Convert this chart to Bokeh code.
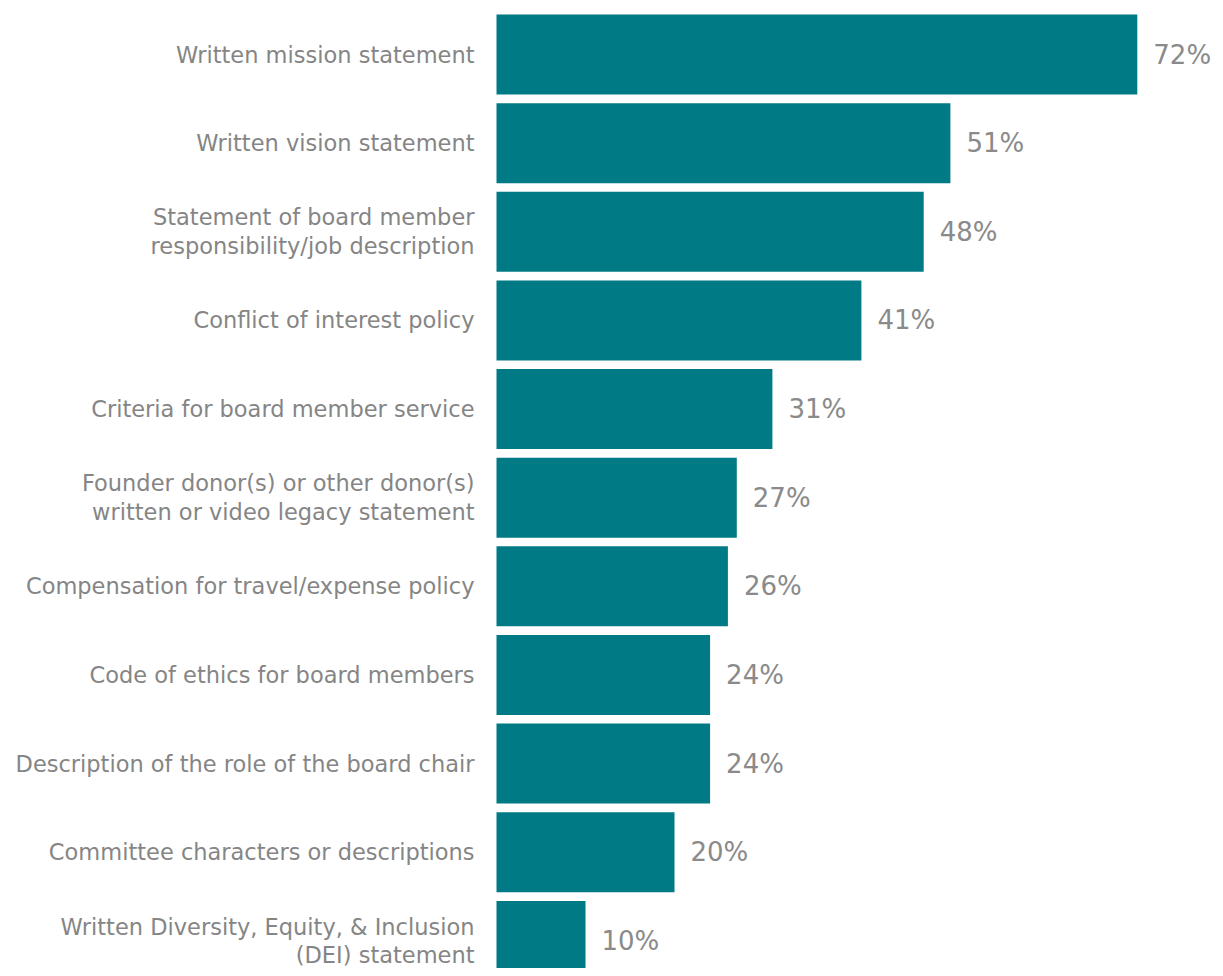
from bokeh.plotting import figure
from bokeh.models import Range1d, ColumnDataSource
from bokeh.core.properties import value
from bokeh.embed import file_html
from bokeh.resources import INLINE

categories = [
    "Written mission statement",
    "Written vision statement",
    "Statement of board member\nresponsibility/job description",
    "Conflict of interest policy",
    "Criteria for board member service",
    "Founder donor(s) or other donor(s)\nwritten or video legacy statement",
    "Compensation for travel/expense policy",
    "Code of ethics for board members",
    "Description of the role of the board chair",
    "Committee characters or descriptions",
    "Written Diversity, Equity, & Inclusion\n(DEI) statement",
]
values = [72, 51, 48, 41, 31, 27, 26, 24, 24, 20, 10]
value_labels = [f"{v}%" for v in values]

W, H = 1215, 968
x0_px = 496.0
px_per_unit = 8.9
pitch = 88.64
top_units = 54.0 / pitch

idx = list(range(len(categories)))
src = ColumnDataSource(dict(y=idx, v=values, cat=categories, lab=value_labels,
                            zero=[0] * len(idx)))

p = figure(width=W, height=H, output_backend="svg", toolbar_location=None,
           x_range=Range1d(-x0_px / px_per_unit, (W - x0_px) / px_per_unit),
           y_range=Range1d(H / pitch - top_units, -top_units),
           min_border=0, min_border_left=0, min_border_right=0,
           min_border_top=0, min_border_bottom=0)
p.xaxis.visible = False
p.yaxis.visible = False
p.xgrid.visible = False
p.ygrid.visible = False
p.outline_line_color = None
p.background_fill_color = "white"
p.border_fill_color = "white"

p.hbar(y="y", left=0, right="v", height=80 / pitch, source=src,
       fill_color="#007A85", line_color=None)

p.text(x="zero", y="y", text="cat", source=src, x_offset=-22,
       text_align="right", text_baseline="middle",
       text_font=value("DejaVu Sans"), text_font_size="22.5px",
       text_color="#858585", text_line_height=1.1)

p.text(x="v", y="y", text="lab", source=src, x_offset=16,
       text_align="left", text_baseline="middle",
       text_font=value("DejaVu Sans"), text_font_size="26px",
       text_color="#8a8a8a", text_font_style="normal")

open("out.html", "w").write(file_html(p, INLINE))
